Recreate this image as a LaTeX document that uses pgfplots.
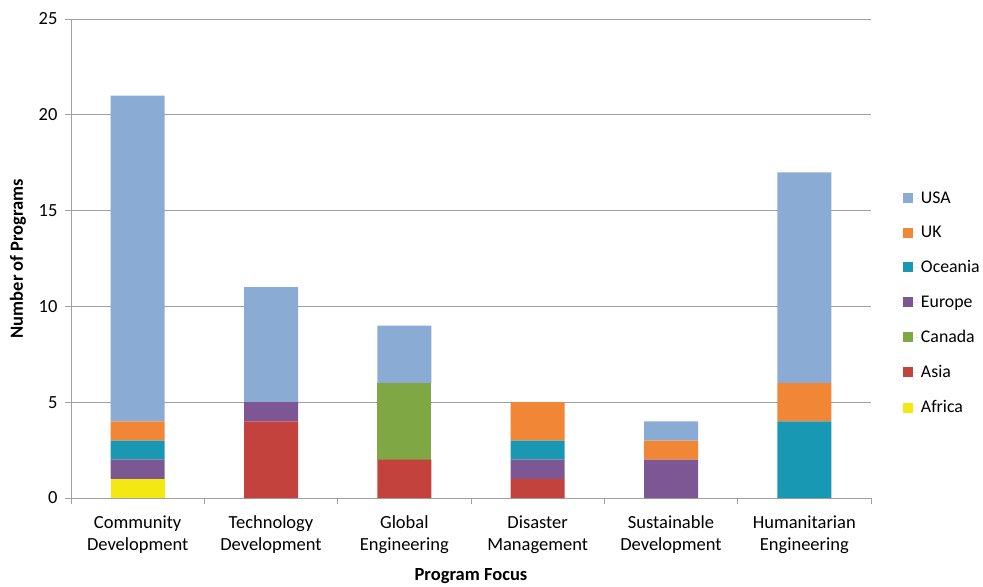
\documentclass[border=0pt]{standalone}
\usepackage{fontspec}
\setmainfont{Carlito}
\usepackage{pgfplots}
\pgfplotsset{compat=1.18}
\definecolor{cUSA}{HTML}{8AABD3}
\definecolor{cUK}{HTML}{F08636}
\definecolor{cOce}{HTML}{1898B2}
\definecolor{cEur}{HTML}{7D5793}
\definecolor{cCan}{HTML}{7FA845}
\definecolor{cAsia}{HTML}{C4423E}
\definecolor{cAfr}{HTML}{F3E811}
\definecolor{cGrid}{HTML}{A0A0A0}
\newcommand{\fs}{\fontsize{18.5bp}{22.5bp}\selectfont}
\newcommand{\fsl}{\fontsize{17.8bp}{22bp}\selectfont}
\begin{document}
\begin{tikzpicture}
\path[use as bounding box] (-71bp,-89bp) rectangle (912bp,498bp);
\begin{axis}[
  at={(0,0)}, anchor=south west,
  scale only axis, width=800bp, height=479bp,
  ybar stacked, bar width=54bp,
  xmin=-0.5, xmax=5.5, ymin=0, ymax=25,
  axis x line*=bottom, axis y line*=left,
  axis line style={draw=cGrid, line width=0.9bp},
  ytick={0,5,...,25},
  ymajorgrids, grid style={draw=cGrid, line width=0.9bp},
  major tick length=6bp, tick align=outside,
  ytick style={draw=cGrid, line width=0.9bp},
  xtick={0,...,5},
  xtick style={draw=none},
  xticklabels={{Community\\Development},{Technology\\Development},{Global\\Engineering},{Disaster\\Management},{Sustainable\\Development},{Humanitarian\\Engineering}},
  xticklabel style={align=center, font=\fs, text=black, yshift=-8bp},
  yticklabel style={font=\fs, text=black, xshift=-4bp},
  /pgf/number format/assume math mode=true,
  extra x ticks={-0.5,0.5,1.5,2.5,3.5,4.5,5.5},
  extra x tick labels={},
  extra x tick style={xtick style={draw=cGrid, line width=0.9bp}, major tick length=6bp, tick align=outside},
  xlabel={Program Focus},
  xlabel style={font=\bfseries\fs, at={(axis description cs:0.5,-0.1628)}, anchor=center},
  ylabel={Number of Programs},
  ylabel style={font=\bfseries\fs, at={(axis description cs:-0.06625,0.5)}, anchor=center, rotate=0},
  reverse legend,
  legend cell align=left,
  legend style={at={(1.036,0.407)}, anchor=west, draw=none, fill=none, font=\fsl, row sep=17.5bp},
  legend image code/.code={\fill[#1, draw=none] (0bp,-5bp) rectangle (10bp,5bp); \path (0bp,0bp) -- (16bp,0bp);},
]
\addplot[fill=cAfr, draw=none] coordinates {(0,1) (1,0) (2,0) (3,0) (4,0) (5,0)};
\addplot[fill=cAsia, draw=none] coordinates {(0,0) (1,4) (2,2) (3,1) (4,0) (5,0)};
\addplot[fill=cCan, draw=none] coordinates {(0,0) (1,0) (2,4) (3,0) (4,0) (5,0)};
\addplot[fill=cEur, draw=none] coordinates {(0,1) (1,1) (2,0) (3,1) (4,2) (5,0)};
\addplot[fill=cOce, draw=none] coordinates {(0,1) (1,0) (2,0) (3,1) (4,0) (5,4)};
\addplot[fill=cUK, draw=none] coordinates {(0,1) (1,0) (2,0) (3,2) (4,1) (5,2)};
\addplot[fill=cUSA, draw=none] coordinates {(0,17) (1,6) (2,3) (3,0) (4,1) (5,11)};
\legend{Africa,Asia,Canada,Europe,Oceania,UK,USA}
\end{axis}
\end{tikzpicture}
\end{document}
